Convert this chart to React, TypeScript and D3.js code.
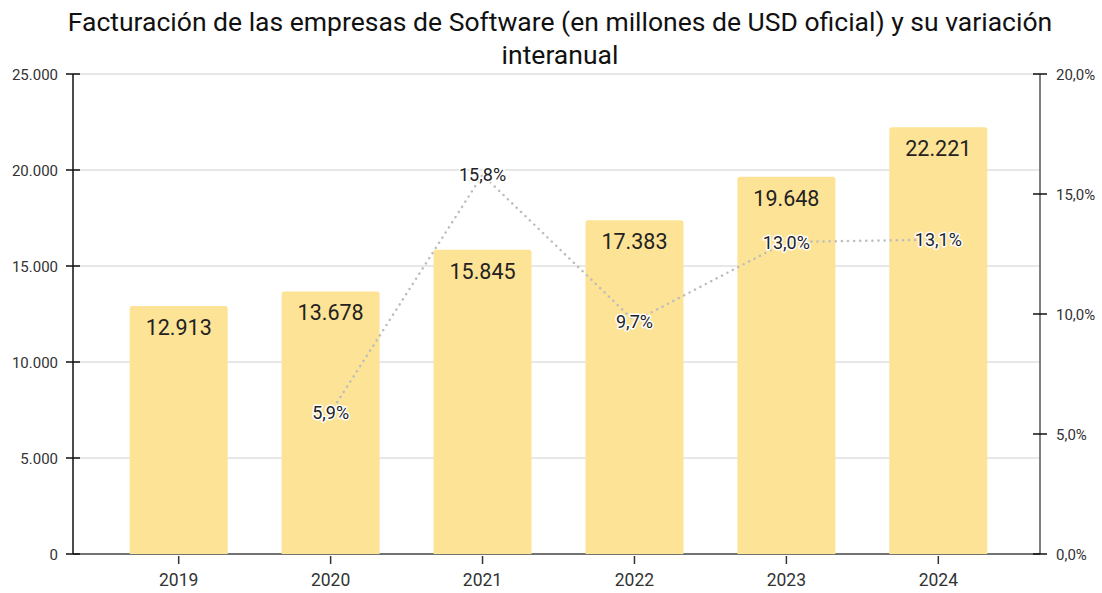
import React from "react";
import * as d3 from "d3";

const years = ["2019", "2020", "2021", "2022", "2023", "2024"];
const revenue = [12913, 13678, 15845, 17383, 19648, 22221];
const growth: (number | null)[] = [null, 5.9, 15.8, 9.7, 13.0, 13.1];
const leftTicks = [0, 5000, 10000, 15000, 20000, 25000];
const rightTicks = [0, 5, 10, 15, 20];

const W = 1102;
const H = 593;
const FONT = "Roboto, 'Noto Sans', sans-serif";

export default function App() {
  const x0 = 73, x1 = 1040, yTop = 74, yBot = 554;
  const x = d3.scaleBand<string>().domain(years).range([x0 + 2, x1 + 2]).paddingInner(0.355).paddingOuter(0.36);
  const yL = d3.scaleLinear().domain([0, 25000]).range([yBot, yTop]);
  const yR = d3.scaleLinear().domain([0, 20]).range([yBot, yTop]);
  const fmtInt = (v: number) => d3.format(",")(v).replace(/,/g, ".");
  const fmtPct = (v: number) => v.toFixed(1).replace(".", ",") + "%";

  const pts = years
    .map((yr, i) => ({ yr, v: growth[i] }))
    .filter((d) => d.v !== null) as { yr: string; v: number }[];
  const line = d3
    .line<{ yr: string; v: number }>()
    .x((d) => (x(d.yr) as number) + x.bandwidth() / 2)
    .y((d) => yR(d.v));

  return (
    <svg width={W} height={H} style={{ position: "absolute", left: 0, top: 0 }} fontFamily={FONT}>
      <rect width={W} height={H} fill="#fff" />
      <text x={560} y={31} textAnchor="middle" fontSize={26.5} fill="#111">
        Facturación de las empresas de Software (en millones de USD oficial) y su variación
      </text>
      <text x={560} y={64} textAnchor="middle" fontSize={26.5} fill="#111">
        interanual
      </text>
      {/* gridlines */}
      {leftTicks.slice(1).map((t) => (
        <line key={t} x1={x0} x2={x1} y1={yL(t)} y2={yL(t)} stroke="#cfcfcf" strokeWidth={1} />
      ))}
      {/* bottom axis line */}
      <line x1={x0} x2={x1} y1={yBot} y2={yBot} stroke="#444" strokeWidth={1.5} />
      {/* bars */}
      {years.map((yr, i) => (
        <path
          key={yr}
          d={(() => {
            const bx = x(yr) as number;
            const bw = x.bandwidth();
            const by = yL(revenue[i]);
            const r = 2.5;
            return `M${bx},${yBot}V${by + r}Q${bx},${by} ${bx + r},${by}H${bx + bw - r}Q${bx + bw},${by} ${bx + bw},${by + r}V${yBot}Z`;
          })()}
          fill="#fde395"
        />
      ))}
      {/* value labels */}
      {years.map((yr, i) => (
        <text
          key={yr}
          x={(x(yr) as number) + x.bandwidth() / 2}
          y={yL(revenue[i]) + 29}
          textAnchor="middle"
          fontSize={21.5}
          fill="#222"
        >
          {fmtInt(revenue[i])}
        </text>
      ))}
      {/* left axis */}
      <line x1={x0} x2={x0} y1={yTop} y2={yBot} stroke="#111" strokeWidth={1.5} />
      {leftTicks.map((t) => (
        <g key={t}>
          <line x1={x0 - 7} x2={x0 + 7} y1={yL(t)} y2={yL(t)} stroke="#111" strokeWidth={1.5} />
          <text x={x0 - 15} y={yL(t) + 5.5} textAnchor="end" fontSize={15} fill="#333">
            {t === 0 ? "0" : fmtInt(t)}
          </text>
        </g>
      ))}
      {/* right axis */}
      <line x1={x1} x2={x1} y1={yTop} y2={yBot} stroke="#555" strokeWidth={1.5} />
      {rightTicks.map((t) => (
        <g key={t}>
          <line x1={x1 - 7} x2={x1 + 7} y1={yR(t)} y2={yR(t)} stroke="#111" strokeWidth={1.5} />
          <text x={x1 + 16} y={yR(t) + 5.5} textAnchor="start" fontSize={15} fill="#333">
            {fmtPct(t)}
          </text>
        </g>
      ))}
      {/* bottom ticks */}
      {years.map((yr) => {
        const cx = (x(yr) as number) + x.bandwidth() / 2;
        return (
          <g key={yr}>
            <line x1={cx} x2={cx} y1={yBot + 2} y2={yBot + 10} stroke="#333" strokeWidth={1.5} />
            <text x={cx} y={yBot + 32} textAnchor="middle" fontSize={17.5} fill="#333">
              {yr}
            </text>
          </g>
        );
      })}
      {/* growth line */}
      <path
        d={line(pts) || ""}
        fill="none"
        stroke="#bdbdbd"
        strokeWidth={2.5}
        strokeDasharray="0.1 6"
        strokeLinecap="round"
      />
      {pts.map((d) => (
        <text
          key={d.yr}
          x={(x(d.yr) as number) + x.bandwidth() / 2}
          y={yR(d.v) + 6.5}
          textAnchor="middle"
          fontSize={18}
          fill="#222"
          stroke="#fff"
          strokeWidth={3}
          paintOrder="stroke"
          strokeLinejoin="round"
        >
          {fmtPct(d.v)}
        </text>
      ))}
    </svg>
  );
}
